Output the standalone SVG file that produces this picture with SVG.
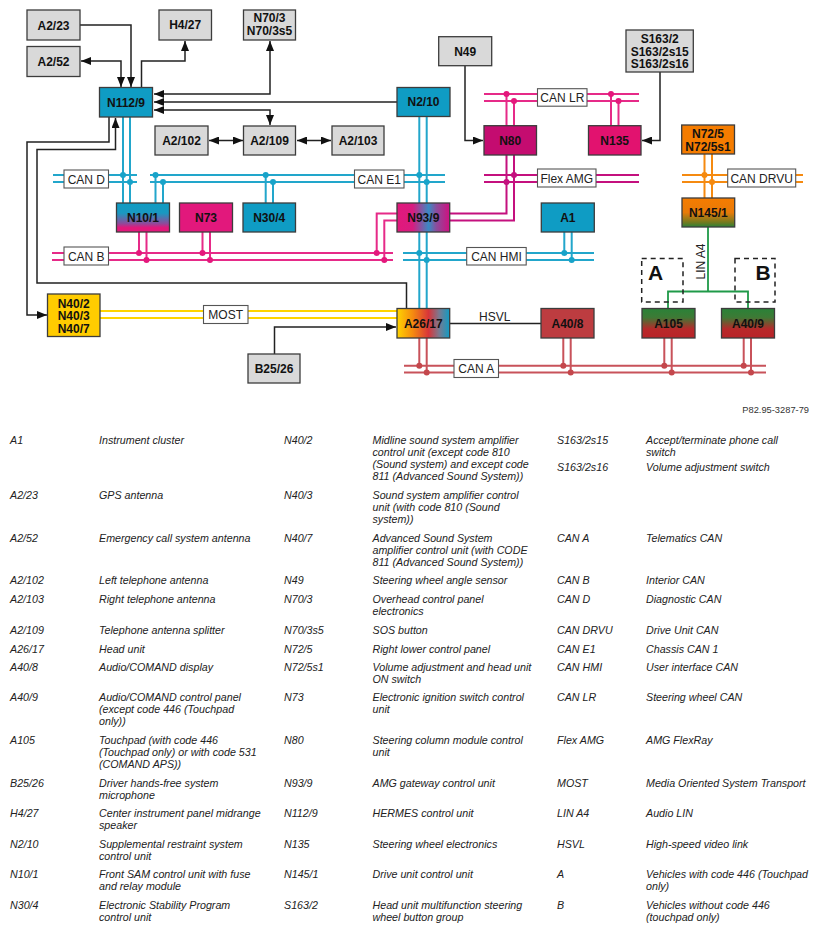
<svg xmlns="http://www.w3.org/2000/svg" width="818" height="932" viewBox="0 0 818 932">
<style>
text{font-family:"Liberation Sans",Arial,sans-serif}
.n{font-size:12px;font-weight:bold;text-anchor:middle;fill:#111}
.b{stroke:#3c3c3c;stroke-width:1.3}
.g{fill:#d9d9d9}
.w{fill:none;stroke:#222;stroke-width:1.5}
.bl{fill:none;stroke:#22a6cb;stroke-width:2}
.pk{fill:none;stroke:#e62a88;stroke-width:2}
.dm{fill:none;stroke:#c4107e;stroke-width:2}
.or{fill:none;stroke:#f58a10;stroke-width:2}
.rd{fill:none;stroke:#c8525a;stroke-width:2}
.ye{fill:none;stroke:#ffd400;stroke-width:2}
.dbl{fill:#18a3c9}.dpk{fill:#e4187c}.ddm{fill:#c4107e}.dor{fill:#f58a10}.drd{fill:#c4474c}
.lb{fill:#fff;stroke:#555;stroke-width:1.1}
.lt{font-size:12px;text-anchor:middle;fill:#222}
.k{font-size:10.7px;font-style:italic;fill:#222}
</style>
<defs>
<marker id="ar" markerUnits="userSpaceOnUse" markerWidth="11" markerHeight="8" refX="10" refY="4" orient="auto-start-reverse"><path d="M0 0L10 4L0 8Z" fill="#111"/></marker>
<linearGradient id="g101" x1="0" y1="0" x2="0" y2="1"><stop offset="0" stop-color="#0f9cc4"/><stop offset=".35" stop-color="#1a98c0"/><stop offset=".7" stop-color="#8c4c9c"/><stop offset=".85" stop-color="#e2187c"/><stop offset="1" stop-color="#e2187c"/></linearGradient>
<linearGradient id="g939" x1="0" y1="0" x2="1" y2="0"><stop offset="0" stop-color="#e2187c"/><stop offset=".3" stop-color="#d81c80"/><stop offset=".6" stop-color="#3a8ac4"/><stop offset=".75" stop-color="#8c4c9c"/><stop offset="1" stop-color="#d01080"/></linearGradient>
<linearGradient id="g2617" x1="0" y1="0" x2="1" y2="0"><stop offset="0" stop-color="#ffd400"/><stop offset=".3" stop-color="#f58a10"/><stop offset=".6" stop-color="#d8353a"/><stop offset=".8" stop-color="#7a7a90"/><stop offset="1" stop-color="#0f9cc4"/></linearGradient>
<linearGradient id="gAm" x1="0" y1="0" x2="0" y2="1"><stop offset="0" stop-color="#2a8238"/><stop offset=".3" stop-color="#3d7a35"/><stop offset=".7" stop-color="#b8282a"/><stop offset="1" stop-color="#b82428"/></linearGradient>
<linearGradient id="g145" x1="0" y1="0" x2="0" y2="1"><stop offset="0" stop-color="#f57c00"/><stop offset=".5" stop-color="#e87a08"/><stop offset=".85" stop-color="#6f7a20"/><stop offset="1" stop-color="#2a8238"/></linearGradient>
</defs>

<g id="connectors">
<path class="bl" d="M53 175H137M53 182H137M150 175H445M150 182H445M123 117V203M130 117V203M155.500 175V203M163 182V203M265.700 175V203M273 182V203M419.300 117V308.500M426.700 117V308.500M403 253H594M403 260H594M564.300 232V253M571.700 232V260"/>
<path class="pk" d="M484 94H639M484 101H639M506.500 94V125.700M514 101V125.700M611 94V125.700M618.500 101V125.700"/>
<path class="dm" d="M484 175H639M484 182H639M506.500 155V213.500H450M514 155V220.500H450"/>
<path class="pk" d="M52 253H393M52 260H393M139 232V253M146.500 232V260M202.500 232V253M210 232V260M397 213.500H376.700V253M397 220.500H384.300V260"/>
<path class="or" d="M682 175H803M682 182H803M704.500 154V198M712 154V198"/>
<path class="ye" d="M100 311H397M100 318H397"/>
<path class="rd" d="M404 365.700H766M404 372.500H766M419.300 338V365.700M426.700 338V372.500M563.300 338V365.700M570.700 338V372.500M664.300 338V365.700M671.700 338V372.500M743.700 338V365.700M751 338V372.500"/>
<path d="M708 227V291.500M668 308.500V291.500H748V308.500" fill="none" stroke="#1f9a48" stroke-width="1.800"/>
<path d="M450 323.500H541" fill="none" stroke="#222" stroke-width="1.300"/>
<g class="dbl"><circle cx="123" cy="175" r="3"/><circle cx="130" cy="182" r="3"/><circle cx="155.500" cy="175" r="3"/><circle cx="163" cy="182" r="3"/><circle cx="265.700" cy="175" r="3"/><circle cx="273" cy="182" r="3"/><circle cx="419.300" cy="175" r="3"/><circle cx="426.700" cy="182" r="3"/><circle cx="419.300" cy="253" r="3"/><circle cx="426.700" cy="260" r="3"/><circle cx="564.300" cy="253" r="3"/><circle cx="571.700" cy="260" r="3"/></g>
<g class="dpk"><circle cx="506.500" cy="94" r="3"/><circle cx="514" cy="101" r="3"/><circle cx="611" cy="94" r="3"/><circle cx="618.500" cy="101" r="3"/><circle cx="139" cy="253" r="3"/><circle cx="146.500" cy="260" r="3"/><circle cx="202.500" cy="253" r="3"/><circle cx="210" cy="260" r="3"/><circle cx="376.700" cy="253" r="3"/><circle cx="384.300" cy="260" r="3"/></g>
<g class="ddm"><circle cx="514" cy="175" r="3"/><circle cx="506.500" cy="182" r="3"/></g>
<g class="dor"><circle cx="704.500" cy="175" r="3"/><circle cx="712" cy="182" r="3"/></g>
<g class="drd"><circle cx="419.300" cy="365.700" r="3"/><circle cx="426.700" cy="372.500" r="3"/><circle cx="563.300" cy="365.700" r="3"/><circle cx="570.700" cy="372.500" r="3"/><circle cx="664.300" cy="365.700" r="3"/><circle cx="671.700" cy="372.500" r="3"/><circle cx="743.700" cy="365.700" r="3"/><circle cx="751" cy="372.500" r="3"/></g>
<path class="w" marker-end="url(#ar)" d="M80 25H131V87"/>
<path class="w" marker-start="url(#ar)" marker-end="url(#ar)" d="M81 61H121V87"/>
<path class="w" marker-end="url(#ar)" d="M141.500 87V61H185V41"/>
<path class="w" marker-start="url(#ar)" marker-end="url(#ar)" d="M154 94H270V41"/>
<path class="w" marker-end="url(#ar)" d="M397 102H154"/>
<path class="w" marker-start="url(#ar)" marker-end="url(#ar)" d="M154 110H270V125"/>
<path class="w" marker-start="url(#ar)" marker-end="url(#ar)" d="M209 140.500H243"/>
<path class="w" marker-start="url(#ar)" marker-end="url(#ar)" d="M297 140.500H331"/>
<path class="w" marker-end="url(#ar)" d="M109 117V142H27V315H47"/>
<path class="w" marker-end="url(#ar)" d="M406.500 308.500V283H37V149.500H115.500V118"/>
<path class="w" marker-end="url(#ar)" d="M274.500 354V327H396"/>
<path class="w" marker-end="url(#ar)" d="M465 66V140.500H483"/>
<path class="w" marker-end="url(#ar)" d="M660 72V140.500H642"/>
</g>

<g id="bus-labels">
<g id="lbl-can-d"><rect class="lb" x="64" y="170" width="44.500" height="18"/><text class="lt" x="86.300" y="183.500">CAN D</text></g>
<g id="lbl-can-e1"><rect class="lb" x="354.500" y="170" width="49.500" height="18"/><text class="lt" x="379.300" y="183.500">CAN E1</text></g>
<g id="lbl-can-lr"><rect class="lb" x="537.500" y="88.700" width="49.500" height="17.500"/><text class="lt" x="562.300" y="102">CAN LR</text></g>
<g id="lbl-flex"><rect class="lb" x="537.500" y="169" width="58.500" height="18"/><text class="lt" x="566.800" y="183">Flex AMG</text></g>
<g id="lbl-can-drvu"><rect class="lb" x="727.700" y="169" width="68" height="18"/><text class="lt" x="761.700" y="183">CAN DRVU</text></g>
<g id="lbl-can-b"><rect class="lb" x="64" y="247" width="44.500" height="18"/><text class="lt" x="86.300" y="260.500">CAN B</text></g>
<g id="lbl-can-hmi"><rect class="lb" x="466.700" y="247.500" width="59.500" height="17.500"/><text class="lt" x="496.500" y="261">CAN HMI</text></g>
<g id="lbl-most"><rect class="lb" x="203.500" y="305.500" width="44.500" height="18"/><text class="lt" x="225.700" y="319">MOST</text></g>
<g id="lbl-can-a"><rect class="lb" x="454" y="359.500" width="44.500" height="18"/><text class="lt" x="476.300" y="373">CAN A</text></g>
<text class="lt" x="494.700" y="321">HSVL</text>
<text class="lt" transform="translate(704.500 261.500) rotate(-90)">LIN A4</text>
</g>

<g id="variant-A"><rect x="641.700" y="258.500" width="41.300" height="43.500" fill="none" stroke="#222" stroke-width="1.500" stroke-dasharray="5 4"/><text x="655.500" y="280" font-size="21" font-weight="bold" text-anchor="middle" fill="#111">A</text></g>
<g id="variant-B"><rect x="735" y="258.500" width="40" height="43.500" fill="none" stroke="#222" stroke-width="1.500" stroke-dasharray="5 4"/><text x="763" y="280" font-size="21" font-weight="bold" text-anchor="middle" fill="#111">B</text></g>

<g id="A2-23"><rect class="b g" x="27" y="10" width="53" height="30"/><text class="n" x="53.500" y="29.500">A2/23</text></g>
<g id="A2-52"><rect class="b g" x="27" y="46.500" width="53" height="30"/><text class="n" x="53.500" y="66">A2/52</text></g>
<g id="H4-27"><rect class="b g" x="159" y="10" width="52.500" height="30"/><text class="n" x="185.200" y="29">H4/27</text></g>
<g id="N70-3"><rect class="b g" x="243.500" y="10" width="52" height="30"/><text class="n" x="269.500" y="22">N70/3</text><text class="n" x="269.500" y="35">N70/3s5</text></g>
<g id="N112-9"><rect class="b" fill="#0f9cc4" x="99.500" y="87.500" width="53" height="29.500"/><text class="n" x="126" y="106.500">N112/9</text></g>
<g id="A2-102"><rect class="b g" x="155" y="126" width="53" height="29"/><text class="n" x="181.500" y="144.500">A2/102</text></g>
<g id="A2-109"><rect class="b g" x="243.500" y="126" width="52" height="29"/><text class="n" x="269.500" y="144.500">A2/109</text></g>
<g id="A2-103"><rect class="b g" x="332" y="126" width="52" height="29"/><text class="n" x="358" y="144.500">A2/103</text></g>
<g id="N2-10"><rect class="b" fill="#0f9cc4" x="397" y="87.500" width="53" height="29"/><text class="n" x="423.500" y="106">N2/10</text></g>
<g id="N49"><rect class="b g" x="438.700" y="36.700" width="53" height="29"/><text class="n" x="465.200" y="55.500">N49</text></g>
<g id="S163-2"><rect class="b g" x="626" y="30" width="67.300" height="42"/><text class="n" x="659.700" y="43">S163/2</text><text class="n" x="659.700" y="55.500">S163/2s15</text><text class="n" x="659.700" y="68">S163/2s16</text></g>
<g id="N80"><rect class="b" fill="#c40c70" x="484" y="125.700" width="52.500" height="29.300"/><text class="n" x="510.200" y="144.500">N80</text></g>
<g id="N135"><rect class="b" fill="#e2126f" x="588.500" y="125.700" width="52.500" height="29.300"/><text class="n" x="614.700" y="144.500">N135</text></g>
<g id="N72-5"><rect class="b" fill="#f57c00" x="681.700" y="125" width="52.800" height="29"/><text class="n" x="708" y="138">N72/5</text><text class="n" x="708" y="150.500">N72/5s1</text></g>
<g id="N145-1"><rect class="b" fill="url(#g145)" x="682" y="198" width="52.700" height="29"/><text class="n" x="708.300" y="216.500">N145/1</text></g>
<g id="N10-1"><rect class="b" fill="url(#g101)" x="116.500" y="203" width="53" height="29"/><text class="n" x="143" y="221.500">N10/1</text></g>
<g id="N73"><rect class="b" fill="#e2187c" x="179.500" y="203" width="53" height="29"/><text class="n" x="206" y="221.500">N73</text></g>
<g id="N30-4"><rect class="b" fill="#0f9cc4" x="243" y="203" width="52.500" height="29"/><text class="n" x="269.200" y="221.500">N30/4</text></g>
<g id="N93-9"><rect class="b" fill="url(#g939)" x="397" y="203" width="52.700" height="29"/><text class="n" x="423.300" y="221.500">N93/9</text></g>
<g id="A1"><rect class="b" fill="#0f9cc4" x="541.300" y="203" width="53" height="29"/><text class="n" x="567.800" y="221.500">A1</text></g>
<g id="N40-2"><rect class="b" fill="#ffcc00" x="47.500" y="294" width="52.500" height="42.500"/><text class="n" x="73.700" y="307.500">N40/2</text><text class="n" x="73.700" y="320">N40/3</text><text class="n" x="73.700" y="332.500">N40/7</text></g>
<g id="A26-17"><rect class="b" fill="url(#g2617)" x="397" y="308.500" width="52.700" height="29.500"/><text class="n" x="423.300" y="327.500">A26/17</text></g>
<g id="A40-8"><rect class="b" fill="#bd3c40" x="541" y="308.500" width="53" height="29.500"/><text class="n" x="567.500" y="327.500">A40/8</text></g>
<g id="A105"><rect class="b" fill="url(#gAm)" x="642" y="308.500" width="53" height="29.500"/><text class="n" x="668.500" y="327.500">A105</text></g>
<g id="A40-9"><rect class="b" fill="url(#gAm)" x="721.500" y="308.500" width="53" height="29.500"/><text class="n" x="748" y="327.500">A40/9</text></g>
<g id="B25-26"><rect class="b g" x="248" y="354" width="52" height="29"/><text class="n" x="274" y="373">B25/26</text></g>

<text x="809" y="413" font-size="9.300" text-anchor="end" fill="#333">P82.95-3287-79</text>

<g id="legend-col1">
<text class="k" x="10" y="444">A1</text><text class="k" x="99" y="444">Instrument cluster</text>
<text class="k" x="10" y="499">A2/23</text><text class="k" x="99" y="499">GPS antenna</text>
<text class="k" x="10" y="542">A2/52</text><text class="k" x="99" y="542">Emergency call system antenna</text>
<text class="k" x="10" y="584">A2/102</text><text class="k" x="99" y="584">Left telephone antenna</text>
<text class="k" x="10" y="603">A2/103</text><text class="k" x="99" y="603">Right telephone antenna</text>
<text class="k" x="10" y="634">A2/109</text><text class="k" x="99" y="634">Telephone antenna splitter</text>
<text class="k" x="10" y="653">A26/17</text><text class="k" x="99" y="653">Head unit</text>
<text class="k" x="10" y="671">A40/8</text><text class="k" x="99" y="671">Audio/COMAND display</text>
<text class="k" x="10" y="701">A40/9</text><text class="k" x="99" y="701">Audio/COMAND control panel<tspan x="99" dy="12">(except code 446 (Touchpad</tspan><tspan x="99" dy="12">only))</tspan></text>
<text class="k" x="10" y="744">A105</text><text class="k" x="99" y="744">Touchpad (with code 446<tspan x="99" dy="12">(Touchpad only) or with code 531</tspan><tspan x="99" dy="12">(COMAND APS))</tspan></text>
<text class="k" x="10" y="787">B25/26</text><text class="k" x="99" y="787">Driver hands-free system<tspan x="99" dy="12">microphone</tspan></text>
<text class="k" x="10" y="817">H4/27</text><text class="k" x="99" y="817">Center instrument panel midrange<tspan x="99" dy="12">speaker</tspan></text>
<text class="k" x="10" y="848">N2/10</text><text class="k" x="99" y="848">Supplemental restraint system<tspan x="99" dy="12">control unit</tspan></text>
<text class="k" x="10" y="878">N10/1</text><text class="k" x="99" y="878">Front SAM control unit with fuse<tspan x="99" dy="12">and relay module</tspan></text>
<text class="k" x="10" y="909">N30/4</text><text class="k" x="99" y="909">Electronic Stability Program<tspan x="99" dy="12">control unit</tspan></text>
</g>
<g id="legend-col2">
<text class="k" x="284" y="444">N40/2</text><text class="k" x="372.500" y="444">Midline sound system amplifier<tspan x="372.500" dy="12">control unit (except code 810</tspan><tspan x="372.500" dy="12">(Sound system) and except code</tspan><tspan x="372.500" dy="12">811 (Advanced Sound System))</tspan></text>
<text class="k" x="284" y="499">N40/3</text><text class="k" x="372.500" y="499">Sound system amplifier control<tspan x="372.500" dy="12">unit (with code 810 (Sound</tspan><tspan x="372.500" dy="12">system))</tspan></text>
<text class="k" x="284" y="542">N40/7</text><text class="k" x="372.500" y="542">Advanced Sound System<tspan x="372.500" dy="12">amplifier control unit (with CODE</tspan><tspan x="372.500" dy="12">811 (Advanced Sound System))</tspan></text>
<text class="k" x="284" y="584">N49</text><text class="k" x="372.500" y="584">Steering wheel angle sensor</text>
<text class="k" x="284" y="603">N70/3</text><text class="k" x="372.500" y="603">Overhead control panel<tspan x="372.500" dy="12">electronics</tspan></text>
<text class="k" x="284" y="634">N70/3s5</text><text class="k" x="372.500" y="634">SOS button</text>
<text class="k" x="284" y="653">N72/5</text><text class="k" x="372.500" y="653">Right lower control panel</text>
<text class="k" x="284" y="671">N72/5s1</text><text class="k" x="372.500" y="671">Volume adjustment and head unit<tspan x="372.500" dy="12">ON switch</tspan></text>
<text class="k" x="284" y="701">N73</text><text class="k" x="372.500" y="701">Electronic ignition switch control<tspan x="372.500" dy="12">unit</tspan></text>
<text class="k" x="284" y="744">N80</text><text class="k" x="372.500" y="744">Steering column module control<tspan x="372.500" dy="12">unit</tspan></text>
<text class="k" x="284" y="787">N93/9</text><text class="k" x="372.500" y="787">AMG gateway control unit</text>
<text class="k" x="284" y="817">N112/9</text><text class="k" x="372.500" y="817">HERMES control unit</text>
<text class="k" x="284" y="848">N135</text><text class="k" x="372.500" y="848">Steering wheel electronics</text>
<text class="k" x="284" y="878">N145/1</text><text class="k" x="372.500" y="878">Drive unit control unit</text>
<text class="k" x="284" y="909">S163/2</text><text class="k" x="372.500" y="909">Head unit multifunction steering<tspan x="372.500" dy="12">wheel button group</tspan></text>
</g>
<g id="legend-col3">
<text class="k" x="557" y="444">S163/2s15</text><text class="k" x="646" y="444">Accept/terminate phone call<tspan x="646" dy="12">switch</tspan></text>
<text class="k" x="557" y="471">S163/2s16</text><text class="k" x="646" y="471">Volume adjustment switch</text>
<text class="k" x="557" y="542">CAN A</text><text class="k" x="646" y="542">Telematics CAN</text>
<text class="k" x="557" y="584">CAN B</text><text class="k" x="646" y="584">Interior CAN</text>
<text class="k" x="557" y="603">CAN D</text><text class="k" x="646" y="603">Diagnostic CAN</text>
<text class="k" x="557" y="634">CAN DRVU</text><text class="k" x="646" y="634">Drive Unit CAN</text>
<text class="k" x="557" y="653">CAN E1</text><text class="k" x="646" y="653">Chassis CAN 1</text>
<text class="k" x="557" y="671">CAN HMI</text><text class="k" x="646" y="671">User interface CAN</text>
<text class="k" x="557" y="701">CAN LR</text><text class="k" x="646" y="701">Steering wheel CAN</text>
<text class="k" x="557" y="744">Flex AMG</text><text class="k" x="646" y="744">AMG FlexRay</text>
<text class="k" x="557" y="787">MOST</text><text class="k" x="646" y="787">Media Oriented System Transport</text>
<text class="k" x="557" y="817">LIN A4</text><text class="k" x="646" y="817">Audio LIN</text>
<text class="k" x="557" y="848">HSVL</text><text class="k" x="646" y="848">High-speed video link</text>
<text class="k" x="557" y="878">A</text><text class="k" x="646" y="878">Vehicles with code 446 (Touchpad<tspan x="646" dy="12">only)</tspan></text>
<text class="k" x="557" y="909">B</text><text class="k" x="646" y="909">Vehicles without code 446<tspan x="646" dy="12">(touchpad only)</tspan></text>
</g>
</svg>
